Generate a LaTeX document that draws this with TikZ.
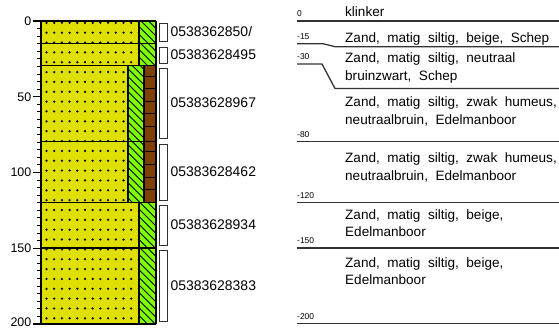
\documentclass[tikz,border=0pt]{standalone}
\usepackage{fontspec}
\setmainfont{Liberation Sans}
\definecolor{soilY}{RGB}{224,224,0}
\definecolor{soilG}{RGB}{128,255,0}
\definecolor{soilB}{RGB}{128,64,0}
\definecolor{lineG}{RGB}{50,50,50}
\newcommand{\dotrect}[4]{%
  \fill[soilY] (#1,#2) rectangle (#3,#4);
  \begin{scope}
    \clip (#1+1,#2+0.8) rectangle (#3-1,#4-0.8);
    \foreach \i in {0,...,12}{\foreach \j in {0,...,31}{\fill (46.5+7.7*\i,22.8+9.85*\j) circle (1.25);}}
  \end{scope}}
\newcommand{\hatchrect}[4]{%
  \fill[soilG] (#1,#2) rectangle (#3,#4);
  \begin{scope}
    \clip (#1,#2) rectangle (#3,#4);
    \foreach \k in {-8,...,45}{\draw[line width=0.9] (120,7.6*\k) -- ++(40,40);}
  \end{scope}}
\tikzset{
  sbox/.style={draw=lineG, fill=white, line width=0.8, minimum width=8bp, inner sep=0, outer sep=0},
  slabel/.style={anchor=west, inner sep=0, font=\fontsize{14}{16}\selectfont},
  axlabel/.style={anchor=east, inner sep=0, font=\fontsize{12.5}{14}\selectfont},
  desc/.style={anchor=base west, inner sep=0, font=\fontsize{13.6}{18}\selectfont},
  dlabel/.style={anchor=base west, inner sep=0, font=\fontsize{8.5}{10}\selectfont},
  rline/.style={draw=lineG, line width=1.3},
  lay/.style={line width=1.2}
}
\begin{document}
\begin{tikzpicture}[x=1bp,y=-1bp]
\useasboundingbox (0,0) rectangle (559,328);
% ---- column fills
\dotrect{41}{21}{139}{43.7}
\dotrect{41}{43.7}{139}{65.7}
\dotrect{41}{65.7}{128}{141.7}
\dotrect{41}{141.7}{128}{202.8}
\dotrect{41}{202.8}{139}{248}
\dotrect{41}{248}{139}{324}
\hatchrect{139}{21}{156}{65.7}
\hatchrect{128}{65.7}{144}{202.8}
\hatchrect{139}{202.8}{156}{324}
\fill[soilB] (144,65.7) rectangle (156,202.8);
\foreach \y in {76,88.5,101,113.5,126,151.7,164.3,177,189.6}{\draw[line width=0.9] (144,\y) -- (156,\y);}
% ---- dividers
\draw[lay] (139,21) -- (139,65.7);
\draw[lay] (128,65.7) -- (128,202.8);
\draw[lay] (144,65.7) -- (144,202.8);
\draw[lay] (139,202.8) -- (139,324);
\foreach \y in {43.7,65.7,141.7,202.8,248}{\draw[lay] (41,\y) -- (156,\y);}
\draw[line width=1.4] (156,21) -- (156,324);
% ---- axis
\draw[line width=1.4] (33,21) -- (156,21);
\draw[line width=1.4] (33,324) -- (156,324);
\draw[line width=1.6] (41,20.3) -- (41,324.7);
\foreach \d in {5,10,...,195}{\draw[line width=1] (37,21+1.515*\d) -- (41,21+1.515*\d);}
\foreach \d in {50,100,150}{\draw[line width=1.2] (33,21+1.515*\d) -- (41,21+1.515*\d);}
\node[axlabel] (a0) at (31.5,21) {0};
\node[axlabel] (a50) at (31.5,96.75) {50};
\node[axlabel] (a100) at (31.5,172.5) {100};
\node[axlabel] (a150) at (31.5,248.25) {150};
\node[axlabel] (a200) at (31.5,322.5) {200};
% ---- samples
\node[sbox, minimum height=18bp] (s1) at (163,32) {};
\node[sbox, minimum height=16bp] (s2) at (163,55) {};
\node[sbox, minimum height=70bp] (s3) at (163,103) {};
\node[sbox, minimum height=56bp] (s4) at (163,172) {};
\node[sbox, minimum height=40bp] (s5) at (163,225) {};
\node[sbox, minimum height=71bp] (s6) at (163,285.5) {};
\node[slabel] (l1) at (170.5,32) {0538362850/};
\node[slabel] (l2) at (170.5,55) {05383628495};
\node[slabel] (l3) at (170.5,103) {05383628967};
\node[slabel] (l4) at (170.5,172) {05383628462};
\node[slabel] (l5) at (170.5,225) {05383628934};
\node[slabel] (l6) at (170.5,285.5) {05383628383};
% ---- description column
\draw[rline] (297,21) -- (559,21);
\draw[rline] (297,43.7) -- (323,43.7) -- (335,46.7) -- (559,46.7);
\draw[rline] (297,64) -- (322,64) -- (335,88.5) -- (559,88.5);
\draw[rline] (297,141.7) -- (559,141.7);
\draw[rline] (297,202.8) -- (559,202.8);
\draw[rline] (297,248) -- (559,248);
\draw[rline] (297,323.5) -- (559,323.5);
\node[dlabel] (d0) at (297,16) {0};
\node[dlabel] (d15) at (297,39.5) {-15};
\node[dlabel] (d30) at (297,59) {-30};
\node[dlabel] (d80) at (297,137.5) {-80};
\node[dlabel] (d120) at (297,198.5) {-120};
\node[dlabel] (d150) at (297,243.5) {-150};
\node[dlabel] (d200) at (297,319) {-200};
\node[desc] (t1) at (345,16.5) {klinker};
\node[desc] (t2) at (345,42) {Zand, \ matig \ siltig, \ beige, \ Schep};
\node[desc] (t3a) at (345,62) {Zand, \ matig \ siltig, \ neutraal};
\node[desc] (t3b) at (345,80) {bruinzwart, \ Schep};
\node[desc] (t4a) at (345,106) {Zand, \ matig \ siltig, \ zwak \ humeus,};
\node[desc] (t4b) at (345,124) {neutraalbruin, \ Edelmanboor};
\node[desc] (t5a) at (345,162) {Zand, \ matig \ siltig, \ zwak \ humeus,};
\node[desc] (t5b) at (345,180) {neutraalbruin, \ Edelmanboor};
\node[desc] (t6a) at (345,219) {Zand, \ matig \ siltig, \ beige,};
\node[desc] (t6b) at (345,236) {Edelmanboor};
\node[desc] (t7a) at (345,267) {Zand, \ matig \ siltig, \ beige,};
\node[desc] (t7b) at (345,284) {Edelmanboor};
\end{tikzpicture}
\end{document}
